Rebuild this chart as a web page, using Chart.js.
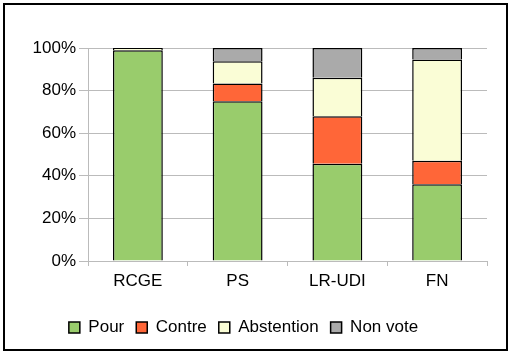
<!DOCTYPE html>
<html>
<head>
<meta charset="utf-8">
<script src="https://cdn.jsdelivr.net/npm/chart.js@4.4.1/dist/chart.umd.min.js"></script>
<style>
  body { margin: 0; background: #fff; }
  #wrap { position: relative; width: 510px; height: 354px; }
  #frame { position: absolute; left: 3px; top: 3px; width: 501px; height: 344px; border: 2px solid #000; }
  canvas { position: absolute; left: 0; top: 0; }
</style>
</head>
<body>
<div id="wrap">
  <div id="frame"></div>
  <canvas id="myChart" width="510" height="354"></canvas>
</div>
<script>
const categories = ['RCGE', 'PS', 'LR-UDI', 'FN']
const pour = [99, 75, 45.6, 36]
const contre = [0, 8.3, 22.4, 11.1]
const abstention = [1, 10.5, 18, 47.5]
const nonVote = [0, 6.2, 14, 5.4]
const yTicks = [0, 20, 40, 60, 80, 100]

const fontFamily = '"Liberation Sans", Arial, sans-serif'

const serie = (label, data, color) => {
  return {
    label: label,
    data: data,
    backgroundColor: color,
    borderColor: '#000',
    borderWidth: 1.5,
    barPercentage: 0.5,
    categoryPercentage: 1
  }
}

const ctx = document.getElementById('myChart')

new Chart(ctx, {
  type: 'bar',
  data: {
    labels: categories,
    datasets: [
      serie('Pour', pour, 'rgb(153,204,108)'),
      serie('Contre', contre, 'rgb(255,102,56)'),
      serie('Abstention', abstention, 'rgb(250,253,214)'),
      serie('Non vote', nonVote, 'rgb(170,170,170)')
    ]
  },
  options: {
    responsive: false,
    animation: false,
    layout: { padding: { left: 0, right: 23, top: 48, bottom: 8 } },
    plugins: {
      tooltip: { enabled: false },
      legend: {
        position: 'bottom',
        labels: {
          color: '#000',
          font: { family: fontFamily, size: 17 },
          boxWidth: 11,
          boxHeight: 11,
          padding: 12
        }
      }
    },
    scales: {
      x: {
        stacked: true,
        grid: { display: true, drawOnChartArea: false, offset: true, color: '#bbb', tickLength: 5 },
        border: { color: '#bbb' },
        ticks: { color: '#000', font: { family: fontFamily, size: 17 }, padding: 5 },
        afterFit: s => { s.height = 46 }
      },
      y: {
        stacked: true,
        min: 0,
        max: 100,
        afterBuildTicks: s => { s.ticks = yTicks.map(v => ({ value: v })) },
        grid: { color: '#bbb', tickLength: 9 },
        border: { color: '#bbb' },
        ticks: {
          color: '#000',
          font: { family: fontFamily, size: 17 },
          padding: 3,
          callback: v => v + '%'
        },
        afterFit: s => { s.width = 88 }
      }
    }
  }
})
</script>
</body>
</html>
